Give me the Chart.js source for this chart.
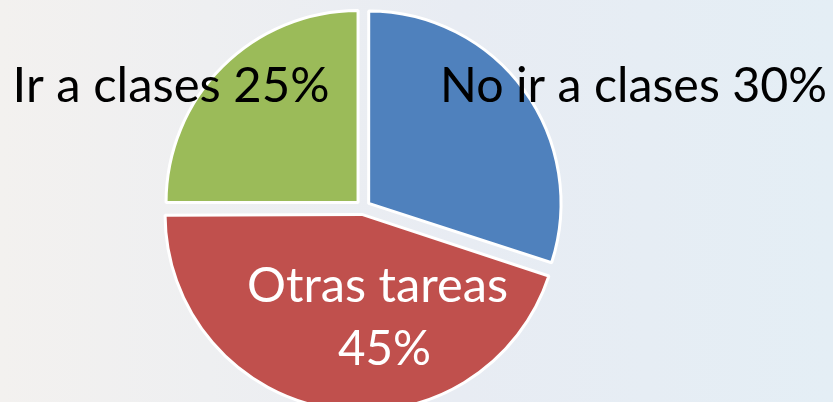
<!DOCTYPE html>
<html>
<head>
<meta charset="utf-8">
<script src="https://cdn.jsdelivr.net/npm/chart.js@4"></script>
<style>
  html, body { margin: 0; padding: 0; }
  body {
    width: 833px; height: 402px; overflow: hidden;
    background: linear-gradient(90deg, #f3f1ef 0%, #eeeff1 25%, #e8ecf3 55%, #e4eef5 100%);
  }
  #wrap { position: relative; width: 833px; height: 402px; }
</style>
</head>
<body>
<div id="wrap"><canvas id="myChart" width="833" height="402"></canvas></div>
<script>
var categories = ['No ir a clases', 'Otras tareas', 'Ir a clases'];
var values = [30, 45, 25];
var colors = ['#4f81bd', '#c0504d', '#9bbb59'];

// label text per slice: text, left x, baseline y, width, colour
var labelLines = [
  { text: 'No ir a clases 30%', x: 440, y: 102, w: 387, color: '#000000' },
  { text: 'Otras tareas', x: 247, y: 302, w: 261, color: '#ffffff' },
  { text: '45%', x: 338, y: 365, w: 93, color: '#ffffff' },
  { text: 'Ir a clases 25%', x: 12, y: 102, w: 318, color: '#000000' }
];

var labelPlugin = {
  id: 'sliceLabels',
  afterDatasetsDraw: function(chart) {
    var ctx = chart.ctx;
    ctx.save();
    ctx.font = '49px Lato, "Open Sans", sans-serif';
    ctx.textBaseline = 'alphabetic';
    ctx.textAlign = 'center';
    labelLines.forEach(function(l) {
      ctx.fillStyle = l.color;
      ctx.fillText(l.text, l.x + l.w / 2, l.y, l.w);
    });
    ctx.restore();
  }
};

new Chart(document.getElementById('myChart'), {
  type: 'pie',
  data: {
    labels: categories,
    datasets: [{
      data: values,
      backgroundColor: colors,
      borderColor: '#ffffff',
      borderWidth: 3,
      offset: 28,
      radius: 192
    }]
  },
  options: {
    responsive: false,
    animation: false,
    layout: { padding: { left: 0, right: 107, top: 13, bottom: 0 } },
    plugins: {
      legend: { display: false },
      tooltip: { enabled: false }
    }
  },
  plugins: [labelPlugin]
});
</script>
</body>
</html>
